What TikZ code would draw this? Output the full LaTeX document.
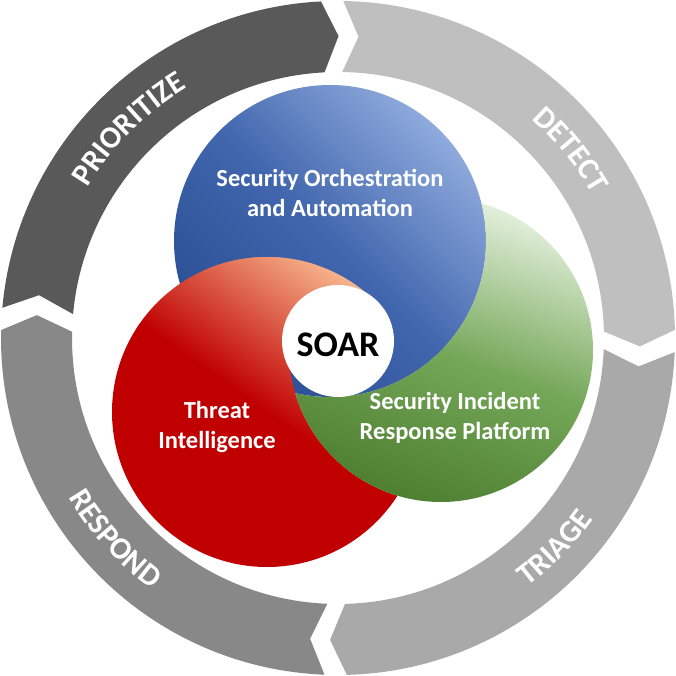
\documentclass[tikz,border=0pt]{standalone}
\usepackage{fontspec}
\setmainfont{Carlito}
\usetikzlibrary{decorations.text}

\definecolor{ringDark}{HTML}{595959}
\definecolor{ringLight}{HTML}{BFBFBF}
\definecolor{ringMid}{HTML}{A9A9A9}
\definecolor{ringGrey}{HTML}{888888}
\definecolor{blueDark}{HTML}{2B4F93}
\definecolor{blueMid}{HTML}{4166AE}
\definecolor{blueLight}{HTML}{8FAADC}
\definecolor{greenLight}{HTML}{E2EFDA}
\definecolor{greenMid}{HTML}{76A85A}
\definecolor{greenDark}{HTML}{4E7F30}
\definecolor{redBase}{HTML}{C00000}
\definecolor{redGlow}{HTML}{F6B48C}

\newcommand{\ringfont}{\bfseries\fontsize{31}{31}\selectfont}

\tikzset{every picture/.style={line width=0.75pt},
	ringtext/.style={decorate, decoration={text along path, text align=center, text color=white}},
	circlabel/.style={text=white, font=\bfseries\fontsize{24.5}{30}\selectfont, align=center},
	redshade/.style={top color=redGlow, bottom color=redBase, middle color=redBase, shading angle=-35},
	outside/.style={insert path={(338,338) -- (338,-338) -- (-338,-338) -- (-338,338) -- cycle}}}

\begin{document}
\begin{tikzpicture}[x=1pt,y=1pt]
	\useasboundingbox (-338,-338) rectangle (338,338);

	%Ring segment [PRIORITIZE]
	\fill[ringDark] (174.85:337) arc[start angle=174.85, end angle=92.9, radius=337] -- (89.9:302) -- (92.9:266) arc[start angle=92.9, end angle=174.85, radius=266] -- (171.85:302) -- cycle;
	%Ring segment [DETECT]
	\fill[ringLight] (89.1:337) arc[start angle=89.1, end angle=1.4, radius=337] -- (-1.6:302) -- (1.4:266) arc[start angle=1.4, end angle=89.1, radius=266] -- (86.1:302) -- cycle;
	%Ring segment [TRIAGE]
	\fill[ringMid] (-2.4:337) arc[start angle=-2.4, end angle=-88.5, radius=337] -- (-91.5:302) -- (-88.5:266) arc[start angle=-88.5, end angle=-2.4, radius=266] -- (-5.4:302) -- cycle;
	%Ring segment [RESPOND]
	\fill[ringGrey] (-92.3:337) arc[start angle=-92.3, end angle=-181.35, radius=337] -- (-184.35:302) -- (-181.35:266) arc[start angle=-181.35, end angle=-92.3, radius=266] -- (-95.3:302) -- cycle;

	%Ring labels
	\path[ringtext, decoration={text={|\ringfont|PRIORITIZE}}] (160:292) arc[start angle=160, end angle=110, radius=292];
	\path[ringtext, decoration={text={|\ringfont|DETECT}}] (64:292) arc[start angle=64, end angle=14, radius=292];
	\path[ringtext, decoration={text={|\ringfont|TRIAGE}}] (-69:313) arc[start angle=-69, end angle=-19, radius=313];
	\path[ringtext, decoration={text={|\ringfont|RESPOND}}] (197:313) arc[start angle=197, end angle=247, radius=313];

	%Circle centres
	\coordinate (soaC) at (-8,97);
	\coordinate (tiC) at (-71,-74);
	\coordinate (sirpC) at (103,-12);
	\coordinate (soarC) at (0,-3);

	%Blue circle (base layer)
	\shade[top color=blueLight, bottom color=blueDark, middle color=blueMid, shading angle=-45] (soaC) circle[radius=156];
	%Red circle, everywhere but under green
	\begin{scope}
		\clip[outside] (sirpC) ++(152,0) arc[start angle=0, end angle=360, radius=152];
		\shade[redshade] (tiC) circle[radius=155];
	\end{scope}
	%Green circle, everywhere but under blue
	\begin{scope}
		\clip[outside] (soaC) ++(156,0) arc[start angle=0, end angle=360, radius=156];
		\shade[top color=greenLight, bottom color=greenDark, middle color=greenMid, shading angle=-20] (sirpC) circle[radius=152];
	\end{scope}
	%Red on top where all three meet, upper left of centre
	\begin{scope}
		\clip (soaC) circle[radius=156];
		\clip (soarC) -- ++(55:400) arc[start angle=55, end angle=150, radius=400] -- cycle;
		\shade[redshade] (tiC) circle[radius=155];
	\end{scope}
	%Centre disc
	\fill[white] (soarC) circle[radius=56];

	% Text Node
	\node[circlabel] (soa) at (-8,145.5) {Security Orchestration\\and Automation};
	% Text Node
	\node[circlabel] (ti) at (-121,-89) {Threat\\Intelligence};
	% Text Node
	\node[circlabel] (sirp) at (117,-80) {Security Incident\\Response Platform};
	% Text Node
	\node[font=\bfseries\fontsize{36}{36}\selectfont] (soar) at (0,-7) {SOAR};

\end{tikzpicture}
\end{document}
